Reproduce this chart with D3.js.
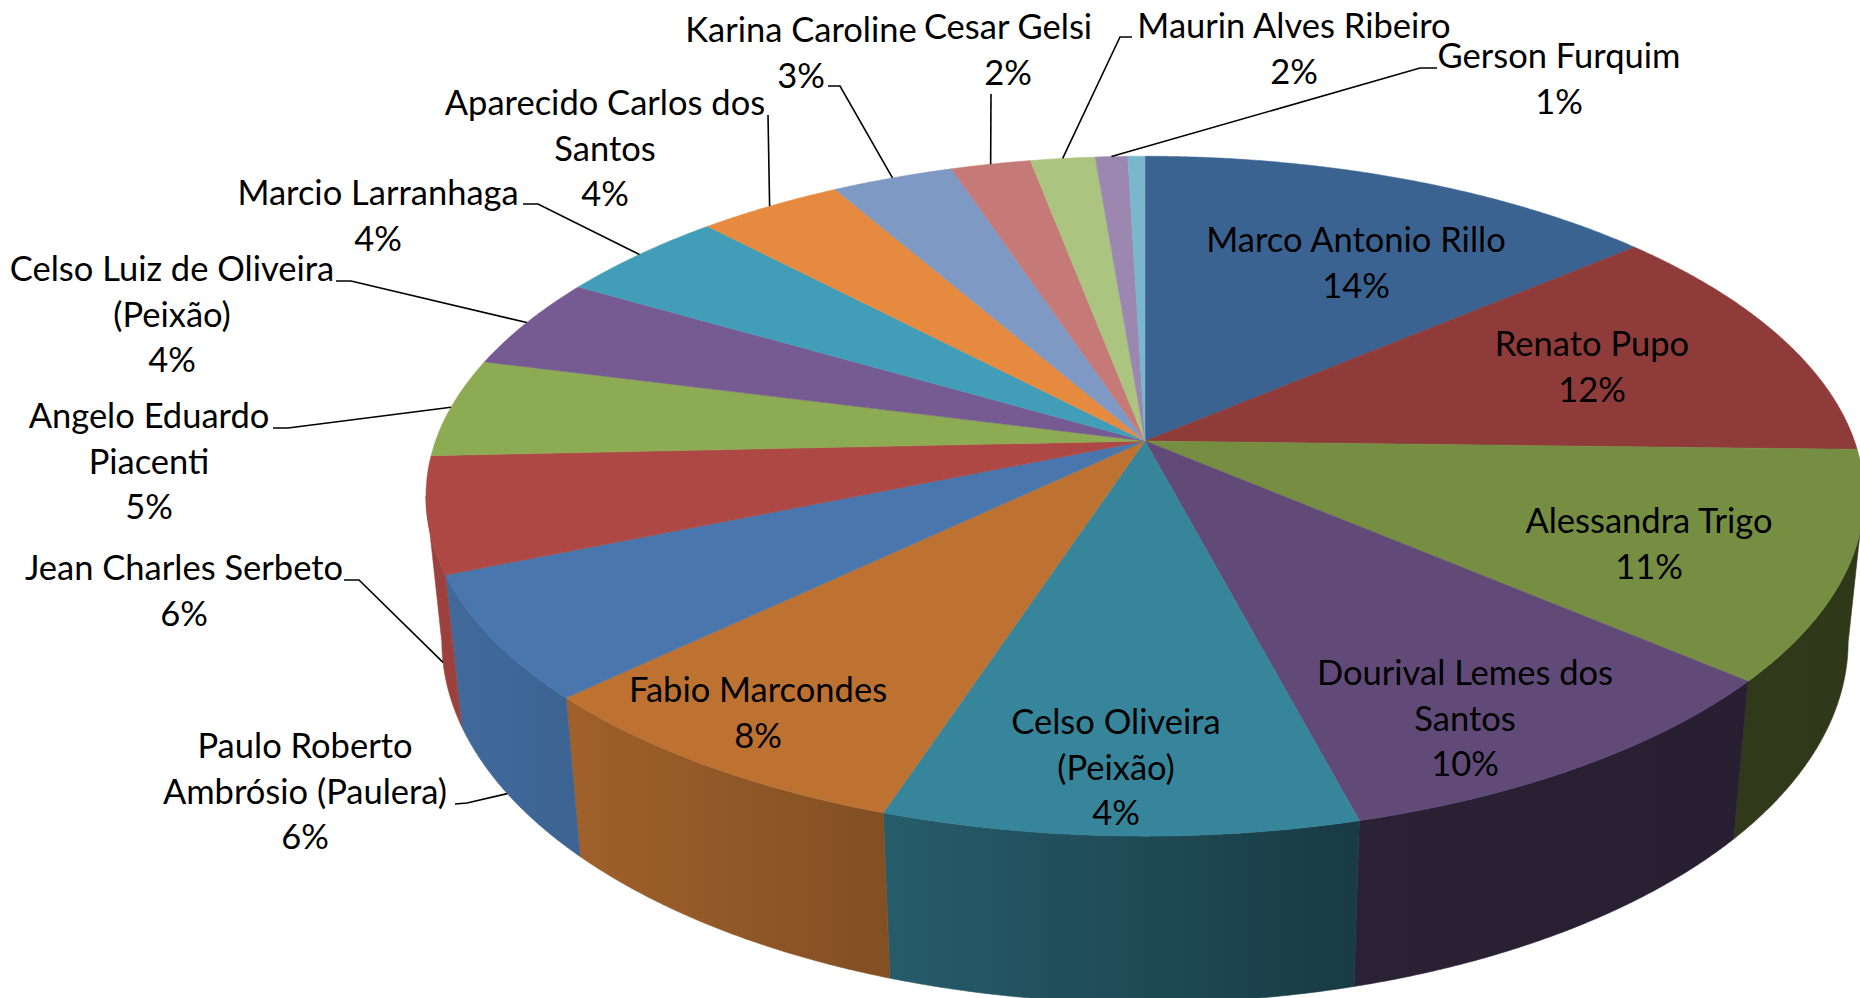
<!DOCTYPE html>
<html><head><meta charset="utf-8">
<script src="https://cdnjs.cloudflare.com/ajax/libs/d3/7.8.5/d3.min.js"></script>
<style>html,body{margin:0;padding:0;background:#fff;overflow:hidden}svg{display:block}text{font-family:Lato,"Open Sans",sans-serif;fill:#000}</style>
</head><body><svg id="c" width="1860" height="998"></svg>
<script>
// ---- data ----
const sliceNames = [
  ["Marco Antonio Rillo"], ["Renato Pupo"], ["Alessandra Trigo"], ["Dourival Lemes dos","Santos"],
  ["Celso Oliveira","(Peixão)"], ["Fabio Marcondes"], ["Paulo Roberto","Ambrósio (Paulera)"],
  ["Jean Charles Serbeto"], ["Angelo Eduardo","Piacenti"], ["Celso Luiz de Oliveira","(Peixão)"],
  ["Marcio Larranhaga"], ["Aparecido Carlos dos","Santos"], ["Karina Caroline"], ["Cesar Gelsi"],
  ["Maurin Alves Ribeiro"], ["Gerson Furquim"], null
];
const percentLabels = ["14%","12%","11%","10%","4%","8%","6%","6%","5%","4%","4%","4%","3%","2%","2%","1%",null];
const sliceValues = [13.8,11.6,10.85,9.65,9.15,7.85,5.9,5.5,4.7,4.4,4.5,3.8,3.2,2.1,1.7,0.85,0.45];
const sliceColors = ["#3b6391","#8f3b3a","#768e42","#614a78","#37859a","#bd7232","#4876ad","#ad4845","#8dab52","#765a92","#429eb8","#e68a3f","#7d99c4","#c67a78","#abc480","#9b87b0","#7ab6cc"];

// ---- layout (not data) ----
const cx=1145,cy=441,A=331,B=709.5,k=0.1623,A2=337,Hz=146,dW=0.022;
const fontSize=34.5,lineH=45.7,textDy=12;
const labelPos=[[1356,240],[1592,344],[1649,521],[1465,673],[1116,722],[758,690],[305,746],[184,568],[149,416],[172,269],[378,193],[605,103],[801,30],[1008,27],[1294,26],[1559,56]];
const leaders={6:{pts:[[455,804],[467,803]],low:true},7:{pts:[[344,580],[359,580]],low:true},8:{pts:[[273,428],[288,428]]},9:{pts:[[336,281],[351,281]]},10:{pts:[[523,204],[538,204]]},11:{pts:[[768,115]]},12:{pts:[[828,86],[840,86]]},13:{pts:[[991,94]]},14:{pts:[[1132,37],[1120,37]]},15:{pts:[[1437,68],[1420,68]]}};
const wallFrom=99.3*Math.PI/180,wallTo=260.7*Math.PI/180;

const rimTop=t=>{const u=Math.sin(t),v=-Math.cos(t),w=1-k*v;return [cx+B*u/w,cy+A*v/w]};
const rimLow=t=>{const u=Math.sin(t),v=-Math.cos(t),w=1-k*v+dW;return [cx+B*u/w,cy+(A2*v+Hz)/w]};
const samples=(a,b)=>{const n=Math.max(2,Math.ceil((b-a)/0.005));return d3.range(n+1).map(i=>a+(b-a)*i/n)};
const line=d3.line();
const shade=d3.scaleLinear().domain([440,580,890,1356,1850]).range([.9,.84,.69,.44,.4]).clamp(true);
const arcs=d3.pie().sort(null).value(d=>d)(sliceValues);
const svg=d3.select("#c"),defs=svg.append("defs");

// walls
const walls=arcs.map((d,i)=>({i,a:Math.max(d.startAngle,wallFrom),b:Math.min(d.endAngle,wallTo)})).filter(d=>d.b>d.a);
walls.forEach(d=>{
  const g=defs.append("linearGradient").attr("id","wall"+d.i).attr("gradientUnits","userSpaceOnUse").attr("x1",440).attr("x2",1850).attr("y1",0).attr("y2",0);
  shade.domain().forEach(x=>{
    const c=d3.rgb(sliceColors[d.i]),f=shade(x);
    g.append("stop").attr("offset",(x-440)/1410).attr("stop-color",d3.rgb(c.r*f,c.g*f,c.b*f).formatHex());
  });
});
svg.append("g").selectAll("path").data(walls).join("path")
  .attr("fill",d=>`url(#wall${d.i})`)
  .attr("stroke",d=>`url(#wall${d.i})`).attr("stroke-width",.6)
  .attr("d",d=>{const s=samples(d.a,d.b);return line([...s.map(rimTop),...s.slice().reverse().map(rimLow)])+"Z"});

// top face
svg.append("g").selectAll("path").data(arcs).join("path")
  .attr("fill",(d,i)=>sliceColors[i]).attr("stroke",(d,i)=>sliceColors[i]).attr("stroke-width",.5)
  .attr("d",d=>line([[cx,cy],...samples(d.startAngle,d.endAngle).map(rimTop)])+"Z");

// leaders
svg.append("g").selectAll("path").data(Object.keys(leaders).map(Number)).join("path")
  .attr("fill","none").attr("stroke","#000").attr("stroke-width",1.6)
  .attr("d",i=>{const m=(arcs[i].startAngle+arcs[i].endAngle)/2,l=leaders[i];return line([...l.pts,(l.low?rimLow:rimTop)(m)])});

// labels
const lab=svg.append("g").selectAll("text").data(labelPos).join("text")
  .attr("text-anchor","middle").attr("font-size",fontSize)
  .attr("x",d=>d[0]).attr("y",d=>d[1]+textDy);
lab.each(function(p,i){
  const t=d3.select(this);
  [...sliceNames[i],percentLabels[i]].forEach((s,j)=>t.append("tspan").attr("x",p[0]).attr("y",p[1]+textDy+j*lineH).text(s));
});
</script></body></html>
